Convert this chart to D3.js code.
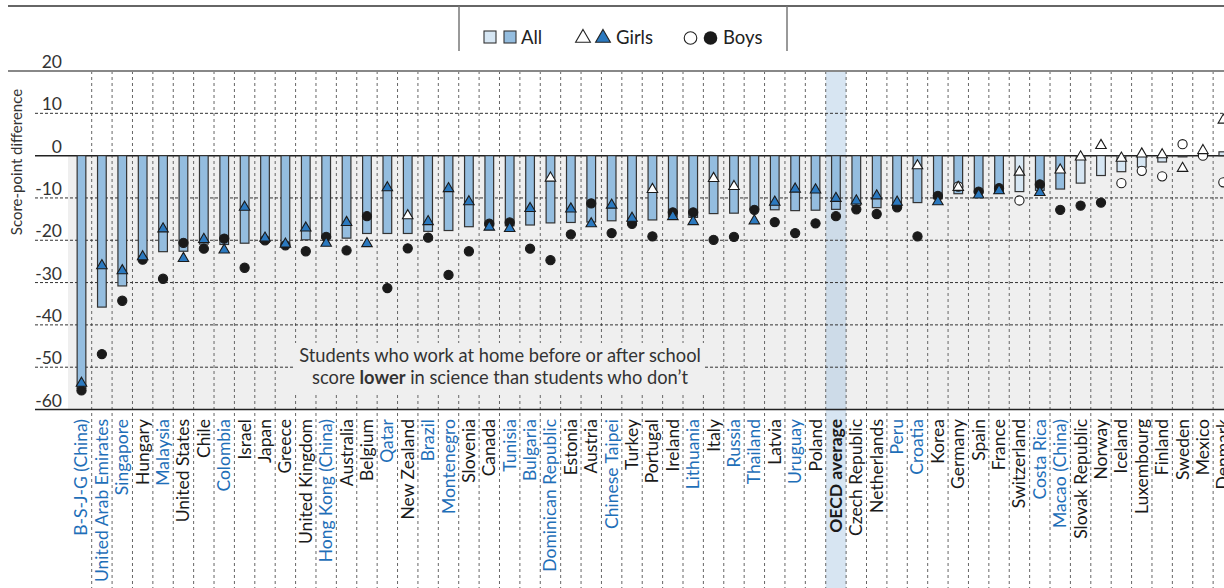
<!DOCTYPE html>
<html><head><meta charset="utf-8">
<script src="https://cdn.jsdelivr.net/npm/d3@7"></script>
<style>
html,body{margin:0;padding:0;background:#fff;}
svg{display:block;font-family:Lato,"Open Sans",sans-serif;}
</style></head>
<body><svg id="c" width="1224" height="588"></svg>
<script>
const countries = ["B-S-J-G (China)","United Arab Emirates","Singapore","Hungary","Malaysia","United States","Chile","Colombia","Israel","Japan","Greece","United Kingdom","Hong Kong (China)","Australia","Belgium","Qatar","New Zealand","Brazil","Montenegro","Slovenia","Canada","Tunisia","Bulgaria","Dominican Republic","Estonia","Austria","Chinese Taipei","Turkey","Portugal","Ireland","Lithuania","Italy","Russia","Thailand","Latvia","Uruguay","Poland","OECD average","Czech Republic","Netherlands","Peru","Croatia","Korea","Germany","Spain","France","Switzerland","Costa Rica","Macao (China)","Slovak Republic","Norway","Iceland","Luxembourg","Finland","Sweden","Mexico","Denmark"];
const partner = [1,1,1,0,1,0,0,1,0,0,0,0,1,0,0,1,0,1,1,0,0,1,1,1,0,0,1,0,0,0,1,0,1,1,0,1,0,0,0,0,1,1,0,0,0,0,0,1,1,0,0,0,0,0,0,0,0];
const allValues = [-55,-35.8,-30.8,-24.5,-22.7,-22.6,-20.9,-21,-20.7,-20.5,-21.5,-19.9,-19.5,-19.5,-18.4,-18.4,-18.4,-17.9,-17.7,-16.8,-16.6,-16.6,-16.4,-15.9,-15.8,-15.7,-15.4,-15.6,-15.2,-14.5,-14.6,-13.7,-13.6,-12.6,-12.8,-13,-12.9,-12.7,-11.8,-12.3,-12.2,-11.1,-10.2,-9,-8.8,-8.9,-8.5,-8.2,-7.9,-6.5,-4.7,-3.8,-2.7,-1.5,-0.3,0.4,0.9];
const allSig = [1,1,1,1,1,1,1,1,1,1,1,1,1,1,1,1,1,1,1,1,1,1,1,1,1,1,1,1,1,1,1,1,1,1,1,1,1,1,1,1,1,1,1,1,1,1,0,1,1,0,0,0,0,0,0,0,0];
const girls = [-53.8,-26,-27.2,-23.9,-17.3,-24.3,-19.8,-22.3,-12.2,-19.5,-20.9,-17.1,-20.7,-15.8,-20.8,-7.6,-14.2,-15.6,-7.8,-10.9,-16.9,-17.2,-12.5,-5.3,-12.6,-16.1,-11.7,-14.8,-8,-14.4,-15.6,-5.4,-7.3,-15.4,-11,-7.9,-8.1,-10.1,-10.7,-9.5,-11,-2.4,-10.9,-7.5,-9.3,-8.3,-3.9,-8.7,-3.4,-0.3,2.4,-0.6,0.4,0.2,-3,1.2,8.4];
const girlsSig = [1,1,1,1,1,1,1,1,1,1,1,1,1,1,1,1,0,1,1,1,1,1,1,0,1,1,1,1,0,1,1,0,0,1,1,1,1,1,1,1,1,0,1,0,1,1,0,1,0,0,0,0,0,0,0,0,0];
const boys = [-55.5,-46.9,-34.3,-24.6,-29.1,-20.6,-22,-19.6,-26.5,-20,-21.2,-22.6,-19.2,-22.4,-14.3,-31.3,-21.9,-19.4,-28.2,-22.6,-16.1,-15.8,-22,-24.7,-18.6,-11.3,-18.3,-16.1,-19.1,-13.4,-13.4,-19.9,-19.2,-12.8,-15.7,-18.3,-16,-14.3,-12.7,-13.8,-12.2,-19.1,-9.5,-7.3,-8.5,-7.7,-10.6,-6.8,-12.8,-11.8,-11.1,-6.5,-3.6,-4.9,2.7,0,-6.3];
const boysSig = [1,1,1,1,1,1,1,1,1,1,1,1,1,1,1,1,1,1,1,1,1,1,1,1,1,1,1,1,1,1,1,1,1,1,1,1,1,1,1,1,1,1,1,0,1,1,0,1,1,1,1,0,0,0,0,0,0];
const yTicks = [20,10,0,-10,-20,-30,-40,-50,-60];

const data = countries.map((c,i)=>({c,partner:partner[i],all:allValues[i],allSig:allSig[i],g:girls[i],gSig:girlsSig[i],b:boys[i],bSig:boysSig[i]}));

const svg = d3.select("#c");
const W = 1224, H = 588;
const colW = 20.39;
const x = d3.scaleBand().domain(countries).range([71.3, 71.3 + colW*countries.length]).padding(0);
const y = d3.scaleLinear().domain([-60,20]).range([409.5, 71]);
const cx = c => x(c) + x.bandwidth()/2;

// backgrounds
svg.append("rect").attr("x",68).attr("y",y(0)).attr("width",W-68).attr("height",y(-60)-y(0)).attr("fill","#efefef");
// OECD band
svg.append("rect").attr("x",x("OECD average")).attr("y",y(20)).attr("width",x.bandwidth()).attr("height",H-y(20)).attr("fill","rgba(148,186,220,0.375)");

// vertical dashed lines
svg.append("g").selectAll("line").data(countries.slice(1)).join("line")
  .attr("x1",d=>x(d)).attr("x2",d=>x(d)).attr("y1",y(20)).attr("y2",H)
  .attr("stroke","#666").attr("stroke-width",1).attr("stroke-dasharray","3,3");

// horizontal gridlines
svg.append("g").selectAll("line").data(yTicks.filter(t=>t!==20&&t!==0&&t!==-60)).join("line")
  .attr("x1",35).attr("x2",W).attr("y1",d=>y(d)).attr("y2",d=>y(d))
  .attr("stroke","#333").attr("stroke-width",1).attr("stroke-dasharray","3,2");

// annotation box
svg.append("rect").attr("x",293).attr("y",343).attr("width",412).attr("height",49).attr("fill","#efefef");
const ann = svg.append("text").attr("text-anchor","middle").attr("fill","#333").attr("font-size",18.3);
ann.append("tspan").attr("x",500).attr("y",362).text("Students who work at home before or after school");
const l2 = ann.append("tspan").attr("x",500).attr("y",384);
l2.append("tspan").text("score ");
l2.append("tspan").attr("font-weight","bold").text("lower");
l2.append("tspan").text(" in science than students who don\u2019t");

// axis lines
svg.append("line").attr("x1",8).attr("x2",W).attr("y1",y(20)).attr("y2",y(20)).attr("stroke","#888").attr("stroke-width",2);
svg.append("line").attr("x1",35).attr("x2",W).attr("y1",y(0)).attr("y2",y(0)).attr("stroke","#222").attr("stroke-width",1.5);
svg.append("line").attr("x1",35).attr("x2",W).attr("y1",y(-60)).attr("y2",y(-60)).attr("stroke","#222").attr("stroke-width",1.5);

// tick labels
svg.append("g").selectAll("text").data(yTicks).join("text")
  .attr("x",62).attr("y",d=>y(d)-3).attr("text-anchor","end").attr("font-size",17.5).attr("fill","#333")
  .text(d=>d);

// y label
svg.append("text").attr("transform","translate(22,162) rotate(-90)").attr("text-anchor","middle")
  .attr("font-size",15).attr("fill","#333").text("Score-point difference");

// bars
const bw = 8.7;
svg.append("g").selectAll("rect").data(data).join("rect")
  .attr("x",d=>cx(d.c)-bw/2).attr("width",bw)
  .attr("y",d=>y(Math.max(0,d.all))).attr("height",d=>Math.abs(y(d.all)-y(0)))
  .attr("fill",d=>d.allSig?"#94bddf":"#d6e6f3").attr("stroke","#333").attr("stroke-width",1.2);

// boys circles
svg.append("g").selectAll("circle").data(data).join("circle")
  .attr("cx",d=>cx(d.c)).attr("cy",d=>y(d.b)).attr("r",4.6)
  .attr("fill",d=>d.bSig?"#1a1a1a":"#fff").attr("stroke","#1a1a1a").attr("stroke-width",1.1);

// girls triangles
const tri = d3.symbol().type(d3.symbolTriangle).size(48);
svg.append("g").selectAll("path").data(data).join("path")
  .attr("d",tri).attr("transform",d=>`translate(${cx(d.c)},${y(d.g)})`)
  .attr("fill",d=>d.gSig?"#2b79bf":"#fff").attr("stroke","#1a1a1a").attr("stroke-width",1.1);

// country labels
svg.append("g").selectAll("text").data(data).join("text")
  .attr("transform",d=>`translate(${cx(d.c)+6},419) rotate(-90)`)
  .attr("text-anchor","end").attr("font-size",17.5)
  .attr("font-weight",d=>d.c==="OECD average"?"bold":"normal")
  .attr("fill",d=>d.partner?"#1f6fb8":"#1a1a1a").text(d=>d.c);

// top rule & legend box
svg.append("line").attr("x1",8).attr("x2",W).attr("y1",6).attr("y2",6).attr("stroke","#333").attr("stroke-width",1.5);
svg.append("line").attr("x1",459).attr("x2",459).attr("y1",6).attr("y2",51).attr("stroke","#777").attr("stroke-width",1.5);
svg.append("line").attr("x1",787).attr("x2",787).attr("y1",6).attr("y2",51).attr("stroke","#777").attr("stroke-width",1.5);

const lg = svg.append("g");
lg.append("rect").attr("x",484).attr("y",31).attr("width",12).attr("height",12).attr("fill","#d6e6f3").attr("stroke","#333").attr("stroke-width",1.1);
lg.append("rect").attr("x",504).attr("y",31).attr("width",12).attr("height",12).attr("fill","#94bddf").attr("stroke","#333").attr("stroke-width",1.1);
lg.append("text").attr("x",521).attr("y",44).attr("font-size",18.5).attr("fill","#222").text("All");
const ltri = d3.symbol().type(d3.symbolTriangle).size(95);
lg.append("path").attr("d",ltri).attr("transform","translate(583,38)").attr("fill","#fff").attr("stroke","#222").attr("stroke-width",1.1);
lg.append("path").attr("d",ltri).attr("transform","translate(603,38)").attr("fill","#2b79bf").attr("stroke","#222").attr("stroke-width",1.1);
lg.append("text").attr("x",616).attr("y",44).attr("font-size",18.5).attr("fill","#222").text("Girls");
lg.append("circle").attr("cx",690.5).attr("cy",38).attr("r",6.3).attr("fill","#fff").attr("stroke","#222").attr("stroke-width",1.1);
lg.append("circle").attr("cx",710.5).attr("cy",38).attr("r",6.8).attr("fill","#1a1a1a");
lg.append("text").attr("x",723).attr("y",44).attr("font-size",18.5).attr("fill","#222").text("Boys");
</script></body></html>
